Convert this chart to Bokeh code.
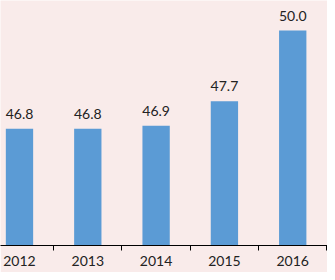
from bokeh.plotting import figure
from bokeh.models import Range1d, FixedTicker, ColumnDataSource
from bokeh.core.properties import value
from bokeh.embed import file_html
from bokeh.resources import INLINE

years = ["2012", "2013", "2014", "2015", "2016"]
values = [46.8, 46.8, 46.9, 47.7, 50.0]
labels = ["46.8", "46.8", "46.9", "47.7", "50.0"]

xs = list(range(len(years)))
src = ColumnDataSource(dict(x=xs, top=values, label=labels))

BG = "#f9ebea"
p = figure(width=327, height=272, output_backend="svg", toolbar_location=None,
           x_range=Range1d(-0.278, 4.509), y_range=Range1d(43.0, 50.98),
           background_fill_color=BG, border_fill_color=BG,
           min_border_left=0, min_border_right=0, min_border_top=0, min_border_bottom=27)
p.outline_line_color = None
p.grid.grid_line_color = None
p.yaxis.visible = False

p.vbar(x="x", top="top", bottom=43.0, width=0.4, source=src,
       fill_color="#5b9bd5", line_color=None)
p.text(x="x", y="top", text="label", source=src, text_align="center",
       text_baseline="bottom", y_offset=-10, text_font=value("Lato"),
       text_font_size="14px", text_color="#222222")

ax = p.xaxis[0]
ax.ticker = FixedTicker(ticks=xs, minor_ticks=[-0.5, 0.5, 1.5, 2.5, 3.5, 4.5])
ax.major_label_overrides = {i: y for i, y in enumerate(years)}
ax.major_tick_line_color = None
ax.major_tick_out = 6
ax.major_tick_in = 0
ax.minor_tick_out = 5
ax.minor_tick_in = 0
ax.minor_tick_line_color = "#000000"
ax.axis_line_color = "#000000"
ax.major_label_standoff = 4
ax.major_label_text_font = "Lato"
ax.major_label_text_font_size = "14px"
ax.major_label_text_color = "#222222"

open("out.html", "w").write(file_html(p, INLINE))
